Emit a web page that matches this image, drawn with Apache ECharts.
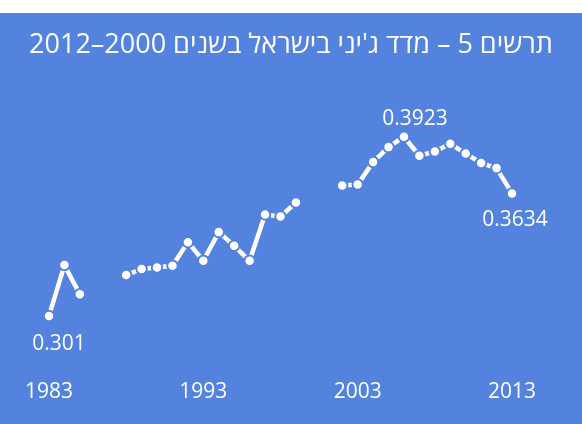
<!DOCTYPE html>
<html>
<head>
<meta charset="utf-8">
<script src="https://cdn.jsdelivr.net/npm/echarts@6/dist/echarts.min.js"></script>
<style>
	html, body {
		margin: 0;
		padding: 0;
		background: #fff;
	}
	#chart {
		width: 582px;
		height: 424px;
		direction: rtl;
	}
</style>
</head>
<body>
<div id="chart"></div>
<script>
	const years = ['1983', '1984', '1985', '1986', '1987', '1988', '1989', '1990', '1991', '1992',
		'1993', '1994', '1995', '1996', '1997', '1998', '1999', '2000', '2001', '2002',
		'2003', '2004', '2005', '2006', '2007', '2008', '2009', '2010', '2011', '2012', '2013'];
	const gini = [0.301, 0.3269, 0.312, null, null, 0.3218, 0.3249, 0.3257, 0.3266, 0.3386,
		0.3291, 0.3437, 0.3367, 0.3291, 0.3527, 0.3516, 0.3588, null, null, 0.3675,
		0.3679, 0.3794, 0.387, 0.3923, 0.3826, 0.3848, 0.3887, 0.3837, 0.3789, 0.3763, 0.3634];
	// years that carry a value label: where it sits and its nudge
	const labelled = {
		'1983': {position: 'bottom', distance: 11, offset: [10, 0]},
		'2006': {position: 'top', distance: 1, offset: [11, 0]},
		'2013': {position: 'bottom', distance: 10, offset: [3, 0]}
	};

	const blue = '#5383de';
	const font = '"Open Sans", "Noto Sans", sans-serif';

	const chart = echarts.init(document.getElementById('chart'));
	chart.setOption({
		backgroundColor: '#fff',
		animation: false,
		graphic: [{
			type: 'rect',
			z: -10,
			shape: {x: 0, y: 13, width: 582, height: 411},
			style: {fill: blue}
		}],
		title: {
			text: 'תרשים 5 – מדד ג\'יני בישראל בשנים 2000–2012',
			left: 'center',
			top: 27,
			textStyle: {
				color: '#fff',
				fontSize: 27,
				fontWeight: 'normal',
				fontFamily: font
			}
		},
		grid: {
			left: 49,
			right: 70,
			top: 121.6,
			bottom: 47.2,
			containLabel: false
		},
		xAxis: {
			type: 'category',
			data: years,
			boundaryGap: false,
			axisLine: {show: false},
			axisTick: {show: false},
			splitLine: {show: false},
			axisLabel: {
				interval: 9,
				color: '#fff',
				fontSize: 21,
				fontFamily: font,
				margin: 5
			}
		},
		yAxis: {
			type: 'value',
			min: 0.27,
			max: 0.40,
			show: false,
			splitLine: {show: false}
		},
		series: [{
			type: 'line',
			connectNulls: false,
			symbol: 'circle',
			symbolSize: 10.5,
			showSymbol: true,
			showAllSymbol: true,
			lineStyle: {color: '#fff', width: 4.5},
			itemStyle: {color: '#fff', borderColor: blue, borderWidth: 2},
			data: gini.map((v, i) => {
				const lab = labelled[years[i]];
				if (!lab) return v;
				return {
					value: v,
					label: Object.assign({
						show: true,
						color: '#fff',
						fontSize: 21,
						fontFamily: font
					}, lab)
				};
			})
		}]
	});
</script>
</body>
</html>
